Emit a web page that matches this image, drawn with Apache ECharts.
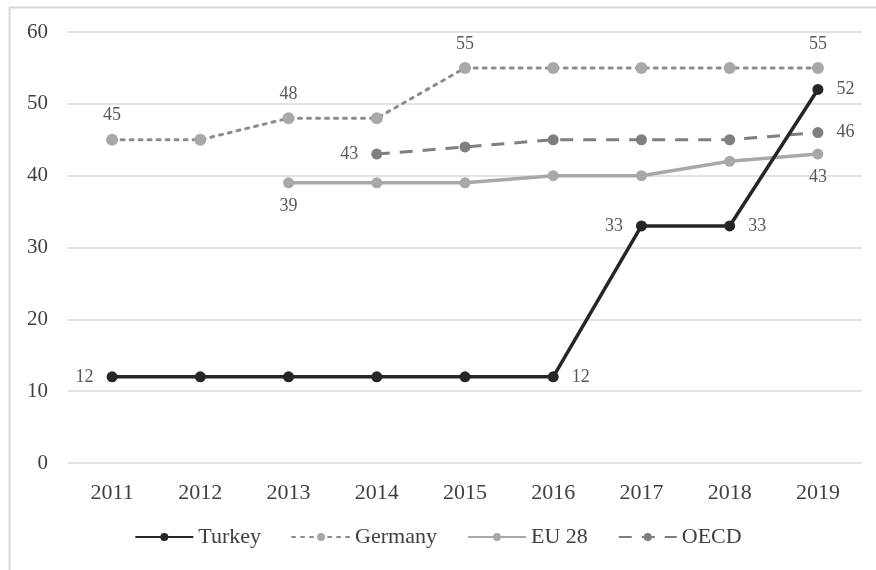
<!DOCTYPE html>
<html>
<head>
    <meta charset="utf-8" />
    <title>Turkey / Germany / EU 28 / OECD</title>
    <script src="https://cdn.jsdelivr.net/npm/echarts@6/dist/echarts.min.js"></script>
    <style type="text/css">
        html,
        body {
            width: 100%;
            height: 100%;
            margin: 0;
            background: #fff;
        }

        #main {
            width: 876px;
            height: 570px;
        }
    </style>
</head>

<body>
    <div id="main"></div>
    <script>
        var years = ['2011', '2012', '2013', '2014', '2015', '2016', '2017', '2018', '2019'];
        var turkey = [12, 12, 12, 12, 12, 12, 33, 33, 52];
        var germany = [45, 45, 48, 48, 55, 55, 55, 55, 55];
        var eu28 = [null, null, 39, 39, 39, 40, 40, 42, 43];
        var oecd = [null, null, null, 43, 44, 45, 45, 45, 46];
        var yTicks = [0, 10, 20, 30, 40, 50, 60];

        // which points carry a value label, and where (index -> position)
        var turkeyLabels = { 0: 'left', 5: 'right', 6: 'left', 7: 'right', 8: 'right' };
        var germanyLabels = { 0: 'top', 2: 'top', 4: 'top', 8: 'top' };
        var euLabels = { 2: 'bottom', 8: 'bottom' };
        var oecdLabels = { 3: 'left', 8: 'right' };

        var font = 'Liberation Serif';

        function withLabels(values, labels) {
            return values.map(function (v, i) {
                if (v === null) return null;
                var pos = labels[i];
                return {
                    value: v,
                    label: pos ? { show: true, position: pos, distance: pos === 'left' || pos === 'right' ? 13 : 9 } : { show: false }
                };
            });
        }

        var labelStyle = { fontFamily: font, fontSize: 18, color: '#595959' };

        var myChart = echarts.init(document.getElementById('main'));
        var option = {
            animation: false,
            backgroundColor: '#fff',
            graphic: [{
                type: 'rect',
                shape: { x: 9.5, y: 7.5, width: 900, height: 600 },
                style: { fill: null, stroke: '#d9d9d9', lineWidth: 2 },
                silent: true
            }],
            grid: { left: 68, right: 14, top: 32, bottom: 107 },
            legend: {
                bottom: 17,
                left: 'center',
                itemWidth: 58,
                itemHeight: 10,
                itemGap: 30,
                textStyle: { fontFamily: font, fontSize: 22, color: '#404040' },
                data: ['Turkey', 'Germany', 'EU 28', 'OECD']
            },
            xAxis: {
                type: 'category',
                data: years,
                boundaryGap: true,
                axisLine: { show: false },
                axisTick: { show: false },
                axisLabel: { fontFamily: font, fontSize: 22, color: '#404040', margin: 19 }
            },
            yAxis: {
                type: 'value',
                min: yTicks[0],
                max: yTicks[yTicks.length - 1],
                interval: 10,
                axisLine: { show: false },
                axisTick: { show: false },
                axisLabel: { fontFamily: font, fontSize: 21, color: '#404040', margin: 20 },
                splitLine: { lineStyle: { color: '#e3e3e3', width: 2 } }
            },
            series: [{
                name: 'Turkey',
                type: 'line',
                z: 5,
                data: withLabels(turkey, turkeyLabels),
                symbol: 'circle',
                symbolSize: 11,
                itemStyle: { color: '#262626' },
                lineStyle: { color: '#262626', width: 3.5 },
                label: labelStyle
            }, {
                name: 'Germany',
                type: 'line',
                data: withLabels(germany, germanyLabels),
                symbol: 'circle',
                symbolSize: 12,
                itemStyle: { color: '#a8a8a8' },
                lineStyle: { color: '#8c8c8c', width: 3, type: [3, 6], cap: 'round' },
                label: labelStyle
            }, {
                name: 'EU 28',
                type: 'line',
                data: withLabels(eu28, euLabels),
                symbol: 'circle',
                symbolSize: 11,
                itemStyle: { color: '#a8a8a8' },
                lineStyle: { color: '#a8a8a8', width: 3.5 },
                label: labelStyle
            }, {
                name: 'OECD',
                type: 'line',
                data: withLabels(oecd, oecdLabels),
                symbol: 'circle',
                symbolSize: 11,
                itemStyle: { color: '#7f7f7f' },
                lineStyle: { color: '#7f7f7f', width: 3, type: [13, 10] },
                label: labelStyle
            }]
        };
        myChart.setOption(option);
    </script>
</body>
</html>
